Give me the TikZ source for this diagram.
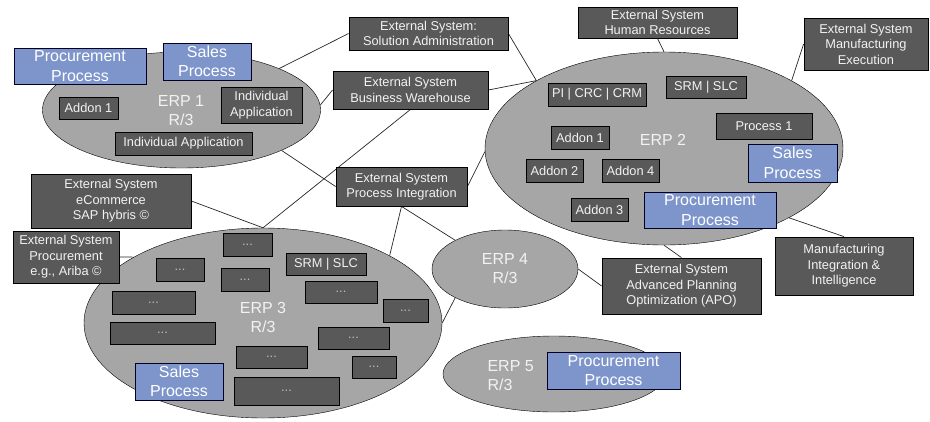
\documentclass[tikz,border=0pt]{standalone}
\usepackage{fontspec}
\setmainfont{Liberation Sans}
\usepackage{xcolor}
\usetikzlibrary{shapes.geometric,backgrounds}

\definecolor{erpgray}{HTML}{A6A6A6}
\definecolor{boxgray}{HTML}{595959}
\definecolor{procblue}{HTML}{7D95CB}
\definecolor{lighttext}{HTML}{F2F2F2}
\definecolor{dotsgray}{HTML}{BFBFBF}

\tikzset{
  erp/.style={ellipse, draw=black, fill=erpgray, inner sep=0pt},
  erplabel/.style={text=lighttext, align=center, font=\fontsize{16}{19}\selectfont},
  extsys/.style={draw=black, fill=boxgray, text=lighttext, align=center, inner sep=0pt,
    line width=0.8pt, font=\fontsize{12.8}{15.5}\selectfont},
  dotsbox/.style={extsys, text=dotsgray},
  process/.style={draw=black!85!blue, fill=procblue, text=white, align=center, inner sep=0pt,
    line width=0.9pt, font=\fontsize{16}{19.5}\selectfont},
  boxsize/.style 2 args={minimum width=#1pt, minimum height=#2pt},
  link/.style={draw=black!85, line width=0.7pt},
}

\begin{document}
\begin{tikzpicture}[x=1pt, y=-1pt]
    \useasboundingbox (0,0) rectangle (930,421);

    % ERP systems
    \node[erp, boxsize={278}{116}] (erp1) at (181.5,110) {};
    \node[erp, boxsize={358}{193}] (erp2) at (664,148.5) {};
    \node[erp, boxsize={358}{190}] (erp3) at (263,323) {};
    \node[erp, boxsize={146}{78}] (erp4) at (505,269) {};
    \node[erp, boxsize={222}{76}] (erp5) at (554,374) {};

    \node[erplabel] (erp1lbl) at (181,111) {ERP 1\\R/3};
    \node[erplabel] (erp2lbl) at (663,140) {ERP 2};
    \node[erplabel] (erp3lbl) at (263,317) {ERP 3\\R/3};
    \node[erplabel] (erp4lbl) at (505,269) {ERP 4\\R/3};
    \node[erplabel, align=left, anchor=west] (erp5lbl) at (484,376) {ERP 5\\R/3};

    % ERP 1
    \node[process, boxsize={132}{36}] (procproc1) at (80,66) {Procurement\\Process};
    \node[process, boxsize={88}{37}] (salesproc1) at (207,61.5) {Sales\\Process};
    \node[extsys, boxsize={59}{22}] (addon11) at (88.5,108) {Addon 1};
    \node[extsys, boxsize={81}{36}] (indapp1) at (261.5,105) {Individual\\Application};
    \node[extsys, boxsize={137}{23}] (indapp2) at (183.5,143.5) {Individual Application};

    % ERP 2
    \node[extsys, boxsize={98}{23}] (picrc) at (597,94.5) {PI | CRC | CRM};
    \node[extsys, boxsize={80}{22}] (srm2) at (706,87) {SRM | SLC};
    \node[extsys, boxsize={58}{23}] (addon21) at (580,137.5) {Addon 1};
    \node[extsys, boxsize={57}{23}] (addon22) at (554.5,170.5) {Addon 2};
    \node[extsys, boxsize={57}{23}] (addon24) at (630.5,170.5) {Addon 4};
    \node[extsys, boxsize={57}{23}] (addon23) at (599.5,209.5) {Addon 3};
    \node[extsys, boxsize={96}{26}] (process1) at (764,126) {Process 1};
    \node[process, boxsize={89}{38}] (salesproc2) at (792.5,163) {Sales\\Process};
    \node[process, boxsize={132}{36}] (procproc2) at (710,210) {Procurement\\Process};

    % ERP 3
    \node[dotsbox, boxsize={49}{23}] (d1) at (247.5,244.5) {...};
    \node[dotsbox, boxsize={48}{23}] (d2) at (180,269.5) {...};
    \node[dotsbox, boxsize={48}{23}] (d3) at (245,279.5) {...};
    \node[extsys, boxsize={80}{22}] (srm3) at (326,264) {SRM | SLC};
    \node[dotsbox, boxsize={83}{23}] (d4) at (153.5,302.5) {...};
    \node[dotsbox, boxsize={105}{22}] (d5) at (162.5,333) {...};
    \node[dotsbox, boxsize={72}{22}] (d6) at (341,292) {...};
    \node[dotsbox, boxsize={45}{23}] (d7) at (405.5,310.5) {...};
    \node[dotsbox, boxsize={71}{22}] (d8) at (353.5,338) {...};
    \node[dotsbox, boxsize={71}{22}] (d9) at (271.5,357) {...};
    \node[dotsbox, boxsize={44}{22}] (d10) at (374,367) {...};
    \node[dotsbox, boxsize={105}{28}] (d11) at (286.5,391) {...};
    \node[process, boxsize={88}{37}] (salesproc3) at (179,381.5) {Sales\\Process};

    % ERP 5
    \node[process, boxsize={133}{37}] (procproc5) at (613.5,370.5) {Procurement\\Process};

    % External systems
    \node[extsys, boxsize={159}{33}] (soladmin) at (428.5,33.5) {External System:\\Solution Administration};
    \node[extsys, boxsize={155}{38}] (bw) at (410.5,90) {External System\\Business Warehouse};
    \node[extsys, boxsize={159}{31}] (hr) at (657.5,22.5) {External System\\Human Resources};
    \node[extsys, boxsize={124}{52}] (mes) at (866,44) {External System\\Manufacturing\\Execution};
    \node[extsys, boxsize={131}{39}] (pi) at (401.5,186.5) {External System\\Process Integration};
    \node[extsys, boxsize={160}{54}] (ecom) at (111,201) {External System\\eCommerce\\SAP hybris ©};
    \node[extsys, boxsize={106}{52}] (ariba) at (66,257) {External System\\Procurement\\e.g., Ariba ©};
    \node[extsys, boxsize={159}{56}] (apo) at (681.5,286) {External System\\Advanced Planning\\Optimization (APO)};
    \node[extsys, boxsize={138}{58}] (mii) at (844,266) {Manufacturing\\Integration \&\\Intelligence};

    % Connections
    \begin{scope}[on background layer]
        \draw[link] (erp1.23) -- (soladmin.west);
        \draw[link] (soladmin.east) -- (erp2.152);
        \draw[link] (bw.east) -- (erp2.152);
        \draw[link] (erp1.2) -- (bw.west);
        \draw[link] (bw.south) -- (erp3.north);
        \draw[link] (erp1.-22) -- (pi.west);
        \draw[link] (ecom.east) -- (erp3.north);
        \draw[link] (ariba.east) -- (erp3.153);
        \draw[link] (pi.east) -- (erp2.181);
        \draw[link] (pi.south) -- (erp3.28);
        \draw[link] (pi.south) -- (erp4.150);
        \draw[link] (erp4.210) -- (erp3.east);
        \draw[link] (erp4.east) -- (apo.west);
        \draw[link] (erp2.south) -- (apo.north);
        \draw[link] (erp2.331) -- (mii.north);
        \draw[link] (hr.south) -- (erp2.north);
        \draw[link] (mes.west) -- (erp2.28);
    \end{scope}
\end{tikzpicture}
\end{document}
